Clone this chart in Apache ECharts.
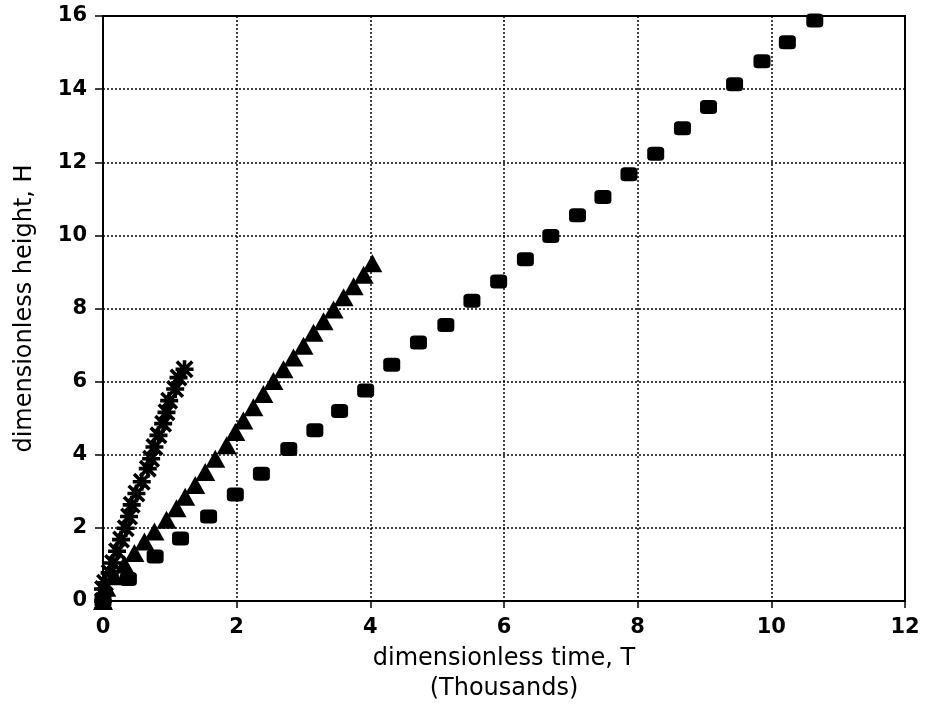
<!DOCTYPE html>
<html>
<head>
<meta charset="utf-8">
<script src="https://cdn.jsdelivr.net/npm/echarts@6/dist/echarts.min.js"></script>
<style>
  html, body { margin: 0; padding: 0; background: #fff; }
  #main { width: 927px; height: 709px; }
</style>
</head>
<body>
<div id="main"></div>
<script>
// squares
var sqT = [0, 0.38, 0.78, 1.16, 1.58, 1.98, 2.37, 2.78, 3.17, 3.54, 3.93, 4.32, 4.72, 5.13, 5.52, 5.92,
	6.32, 6.70, 7.10, 7.48, 7.87, 8.27, 8.67, 9.06, 9.45, 9.86, 10.24, 10.65];
var sqH = [0, 0.6, 1.22, 1.71, 2.31, 2.91, 3.48, 4.16, 4.67, 5.2, 5.76, 6.46, 7.07, 7.55, 8.21, 8.74,
	9.35, 9.98, 10.55, 11.05, 11.67, 12.23, 12.93, 13.51, 14.13, 14.76, 15.28, 15.88];
// triangles
var triT = [0, 0.05, 0.17, 0.32, 0.47, 0.62, 0.77, 0.95, 1.10, 1.23, 1.38, 1.53, 1.68, 1.85, 1.98,
	2.10, 2.25, 2.40, 2.55, 2.70, 2.85, 3.00, 3.15, 3.30, 3.45, 3.60, 3.75, 3.90, 4.03];
var triH = [0, 0.36, 0.68, 1.00, 1.31, 1.63, 1.90, 2.22, 2.54, 2.85, 3.17, 3.53, 3.89, 4.26, 4.62,
	4.94, 5.30, 5.66, 6.02, 6.34, 6.66, 6.98, 7.34, 7.65, 7.97, 8.31, 8.61, 8.92, 9.24];
// stars
var starT = [0, 0.0, 0.03, 0.10, 0.15, 0.21, 0.27, 0.34, 0.39, 0.43, 0.50, 0.58, 0.67, 0.72, 0.77,
	0.83, 0.90, 0.95, 0.99, 1.08, 1.13, 1.22];
var starH = [0, 0.33, 0.5, 0.77, 1.04, 1.36, 1.68, 1.99, 2.31, 2.63, 2.94, 3.26, 3.62, 3.89, 4.21,
	4.53, 4.85, 5.16, 5.48, 5.8, 6.11, 6.34];

var xTicks = [0, 2, 4, 6, 8, 10, 12];
var yTicks = [0, 2, 4, 6, 8, 10, 12, 14, 16];

function pairs(xs, ys) {
	return xs.map(function (x, i) { return [x, ys[i]]; });
}

// asterisk made of four bars
var starPath = 'path://M0 8L20 8L20 12L0 12Z M8 0L12 0L12 20L8 20Z ' +
	'M2.8 0L20 17.2L17.2 20L0 2.8Z M17.2 0L20 2.8L2.8 20L0 17.2Z';

var myChart = echarts.init(document.getElementById('main'));

var tickFont = { fontFamily: 'DejaVu Sans', fontWeight: 'bold', fontSize: 21, color: '#000' };
var gridLine = { show: true, lineStyle: { color: '#000', width: 1.5, type: [2, 2] } };

var option = {
	backgroundColor: '#fff',
	animation: false,
	grid: {
		left: 103,
		right: 22,
		top: 16,
		bottom: 104,
		show: true,
		borderColor: '#000',
		borderWidth: 2
	},
	xAxis: {
		type: 'value',
		min: xTicks[0],
		max: xTicks[xTicks.length - 1],
		interval: 2,
		name: 'dimensionless time, T\n(Thousands)',
		nameLocation: 'middle',
		nameGap: 43,
		nameTextStyle: { fontFamily: 'DejaVu Sans', fontSize: 24, lineHeight: 30, color: '#000' },
		axisLine: { lineStyle: { color: '#000', width: 2 } },
		axisTick: { show: true, length: 7, lineStyle: { color: '#000', width: 1.5 } },
		axisLabel: Object.assign({ margin: 16 }, tickFont),
		splitLine: gridLine
	},
	yAxis: {
		type: 'value',
		min: yTicks[0],
		max: yTicks[yTicks.length - 1],
		interval: 2,
		name: 'dimensionless height, H',
		nameLocation: 'middle',
		nameGap: 66,
		nameTextStyle: { fontFamily: 'DejaVu Sans', fontSize: 24, color: '#000' },
		axisLine: { lineStyle: { color: '#000', width: 2 } },
		axisTick: { show: true, length: 8, lineStyle: { color: '#000', width: 1.5 } },
		axisLabel: Object.assign({ margin: 16 }, tickFont),
		splitLine: gridLine
	},
	series: [
		{
			name: 'squares',
			type: 'scatter',
			symbol: 'roundRect',
			symbolSize: [17, 14],
			itemStyle: { color: '#000', opacity: 1 },
			data: pairs(sqT, sqH)
		},
		{
			name: 'triangles',
			type: 'scatter',
			symbol: 'triangle',
			symbolSize: [20, 18],
			itemStyle: { color: '#000', opacity: 1 },
			data: pairs(triT, triH)
		},
		{
			name: 'stars',
			type: 'scatter',
			symbol: starPath,
			symbolSize: 18,
			itemStyle: { color: '#000', opacity: 1 },
			data: pairs(starT, starH)
		}
	]
};

option && myChart.setOption(option);
</script>
</body>
</html>
